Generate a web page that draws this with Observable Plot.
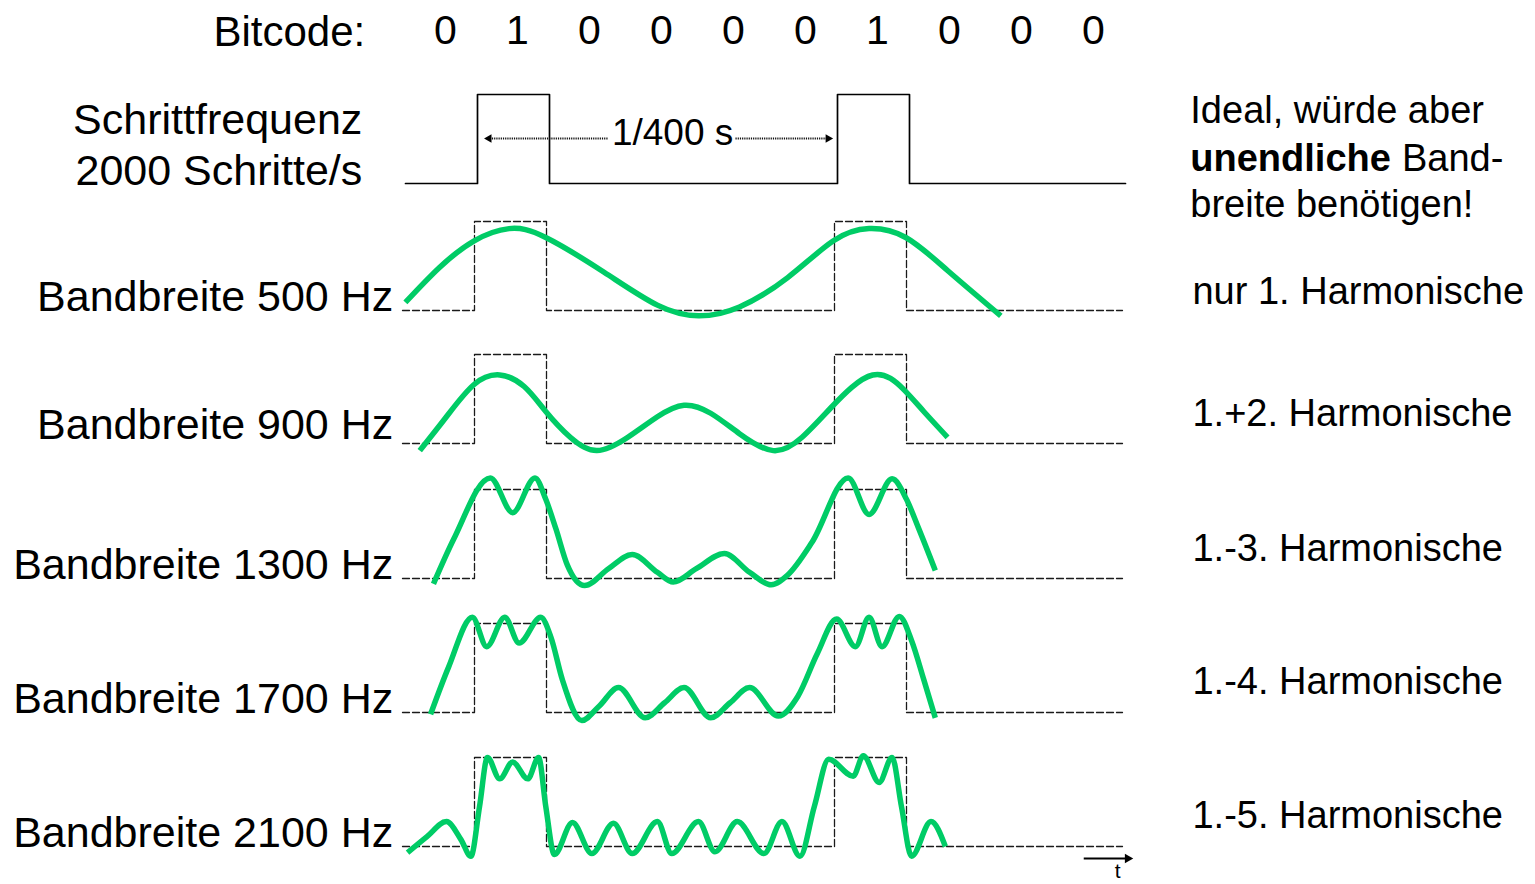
<!DOCTYPE html>
<html>
<head>
<meta charset="utf-8">
<script src="https://cdn.jsdelivr.net/npm/d3@7"></script>
<script src="https://cdn.jsdelivr.net/npm/@observablehq/plot@0.6"></script>
<style>
  html, body { margin: 0; padding: 0; background: #ffffff; }
  #chart svg { display: block; }
</style>
</head>
<body>
<div id="chart"></div>
<script>
// ---------------- DATA ----------------
const bits = [0, 1, 0, 0, 0, 0, 1, 0, 0, 0];
const bandwidths = ["500 Hz", "900 Hz", "1300 Hz", "1700 Hz", "2100 Hz"];
const harmonicLabels = ["nur 1. Harmonische", "1.+2. Harmonische", "1.-3. Harmonische", "1.-4. Harmonische", "1.-5. Harmonische"];
const headerLabel = "Bitcode:";
const stepLabels = ["Schrittfrequenz", "2000 Schritte/s"];
const periodLabel = "1/400 s";
const idealLines = ["Ideal, würde aber", "unendliche", "Band-", "breite benötigen!"];
const timeLabel = "t";

// Green approximations: [position in bits, level (0 = low, 1 = high)]
const wave500 = [[0.04,0.09],[0.51,0.48],[0.99,0.78],[1.48,0.92],[1.99,0.82],[2.80,0.43],[3.54,0.06],[4.11,-0.06],[4.68,0.04],[5.35,0.37],[5.98,0.78],[6.48,0.92],[6.99,0.82],[7.57,0.45],[8.31,-0.06]];
const wave900 = [[0.24,-0.08],[0.61,0.30],[0.99,0.66],[1.35,0.77],[1.69,0.64],[1.99,0.36],[2.33,0.07],[2.70,-0.08],[3.13,0.07],[3.54,0.30],[3.91,0.43],[4.28,0.34],[4.68,0.11],[5.15,-0.08],[5.55,0.07],[5.96,0.41],[6.53,0.77],[6.97,0.60],[7.24,0.36],[7.57,0.07]];
const wave1300 = [[0.43,-0.06],[0.71,0.44],[1.22,1.13],[1.53,0.74],[1.84,1.13],[1.99,0.89],[2.13,0.56],[2.29,0.15],[2.53,-0.08],[2.86,0.11],[3.19,0.27],[3.54,0.07],[3.76,-0.04],[4.08,0.11],[4.47,0.28],[4.82,0.07],[5.12,-0.07],[5.35,0.04],[5.69,0.41],[6.19,1.13],[6.48,0.72],[6.80,1.12],[7.00,0.89],[7.17,0.56],[7.40,0.09]];
const wave1700 = [[0.39,-0.02],[0.64,0.51],[0.97,1.07],[1.17,0.74],[1.42,1.07],[1.62,0.78],[1.92,1.07],[2.06,0.85],[2.22,0.37],[2.49,-0.09],[2.73,0.07],[3.00,0.28],[3.37,-0.06],[3.64,0.11],[3.91,0.28],[4.28,-0.06],[4.55,0.11],[4.82,0.28],[5.22,-0.04],[5.49,0.18],[5.76,0.66],[6.03,1.05],[6.29,0.74],[6.48,1.07],[6.66,0.74],[6.90,1.08],[7.07,0.81],[7.24,0.37],[7.40,-0.06]];
const wave2100 = [[0.07,-0.07],[0.34,0.11],[0.61,0.28],[0.81,0.08],[0.95,-0.11],[1.07,0.45],[1.18,1.00],[1.35,0.76],[1.53,0.95],[1.74,0.76],[1.89,1.00],[1.99,0.45],[2.11,-0.09],[2.36,0.27],[2.63,-0.08],[2.93,0.26],[3.19,-0.08],[3.54,0.28],[3.74,-0.08],[4.11,0.28],[4.34,-0.06],[4.65,0.28],[5.02,-0.08],[5.27,0.28],[5.52,-0.11],[5.72,0.45],[5.92,0.98],[6.26,0.79],[6.40,1.02],[6.62,0.72],[6.80,1.00],[6.93,0.45],[7.07,-0.11],[7.34,0.28],[7.54,0.00]];

// ---------------- LAYOUT (positions / sizes / styles) ----------------
const W = 1535, H = 884;
const BOX = 89;                                      // px per signal level
const rowBaselinePx = [183, 310, 443, 578, 712, 846]; // row 0 = ideal signal
const base = k => rowBaselinePx[k] / BOX;
const Y = (k, a) => a - base(k);                     // level in row k -> y value
const FONT = "'Liberation Sans', Arial, Helvetica, sans-serif";
const GREEN = "#00cc66";
const leftLabelLevel = [0, 0.05, 0, 0, 0];
const rightLabelLevel = [0.07, 0.2, 0.2, 0.21, 0.21];

// ---------------- DERIVED TABLES ----------------
const stepRow = k => [
  ...bits.map((v, i) => ({row: k, x: i, y: Y(k, v)})),
  {row: k, x: bits.length, y: Y(k, bits[bits.length - 1])}
];
const idealPts = stepRow(0);
const dashedPts = bandwidths.flatMap((_, i) => stepRow(i + 1));
const waves = [wave500, wave900, wave1300, wave1700, wave2100];
const greenPts = waves.flatMap((w, i) => w.map(([b, a]) => ({row: i, x: b, y: Y(i + 1, a)})));
const smoothPts = greenPts.filter(d => d.row < 2);
const sharpPts = greenPts.filter(d => d.row >= 2);

const arrowY = Y(0, 0.506);
const periodSegs = [
  {x1: 2.806, x2: 1.16, y: arrowY},
  {x1: 4.583, x2: 5.87, y: arrowY}
];
const periodHeads = [
  {x: 1.16, y: arrowY, r: -90},
  {x: 5.87, y: arrowY, r: 90}
];
const tY = Y(5, -0.135);

const textStyle = {fontFamily: FONT, fill: "#000", lineAnchor: "bottom"};
const greenStyle = {x: "x", y: "y", z: "row", stroke: GREEN, strokeWidth: 5.5, strokeLinecap: "butt", dx: -3};

const chart = Plot.plot({
  width: W,
  height: H,
  margin: 0,
  style: {background: "#ffffff", fontFamily: FONT},
  x: {domain: [0, 10], range: [405, 1125], axis: null},
  y: {domain: [-H / BOX, 0], range: [H, 0], axis: null},
  marks: [
    // ideal bit signal
    Plot.line(idealPts, {x: "x", y: "y", curve: "step-after", stroke: "#000", strokeWidth: 1.7}),
    // dashed reference signal in each band-limited row
    Plot.line(dashedPts, {x: "x", y: "y", z: "row", curve: "step-after", stroke: "#1a1a1a", strokeWidth: 1.3, strokeDasharray: "7,3", dx: -3}),
    // band-limited approximations
    Plot.line(smoothPts, {...greenStyle, curve: "natural"}),
    Plot.line(sharpPts, {...greenStyle, curve: "monotone-x"}),
    // period arrow 1/400 s
    Plot.link(periodSegs, {x1: "x1", x2: "x2", y1: "y", y2: "y", stroke: "#111", strokeWidth: 2, strokeDasharray: "1.2,1"}),
    Plot.dot(periodHeads, {x: "x", y: "y", rotate: "r", symbol: "triangle", r: 3.2, fill: "#000", stroke: null}),
    Plot.text([periodLabel], {x: 3.71, y: Y(0, 0.427), text: d => d, fontSize: 37, textAnchor: "middle", ...textStyle}),
    // header
    Plot.text([headerLabel], {x: -0.56, y: Y(0, 1.55), text: d => d, fontSize: 42, textAnchor: "end", ...textStyle}),
    Plot.text(bits, {x: (d, i) => i + 0.5, y: Y(0, 1.57), text: d => String(d), fontSize: 41, textAnchor: "middle", dx: 4, ...textStyle}),
    // left labels
    Plot.text(stepLabels, {x: -0.6, y: (d, i) => Y(0, i === 0 ? 0.56 : -0.02), text: d => d, fontSize: 43, textAnchor: "end", ...textStyle}),
    Plot.text(bandwidths, {x: -0.17, y: (d, i) => Y(i + 1, leftLabelLevel[i]), text: d => "Bandbreite " + d, fontSize: 43, textAnchor: "end", ...textStyle}),
    // right labels
    Plot.text([idealLines[0]], {x: 10.9, y: Y(0, 0.685), text: d => d, fontSize: 38, textAnchor: "start", ...textStyle}),
    Plot.text([idealLines[1]], {x: 10.9, y: Y(0, 0.146), text: d => d, fontSize: 38, fontWeight: "bold", textAnchor: "start", ...textStyle}),
    Plot.text([idealLines[2]], {x: 13.84, y: Y(0, 0.146), text: d => d, fontSize: 38, textAnchor: "start", ...textStyle}),
    Plot.text([idealLines[3]], {x: 10.9, y: Y(0, -0.38), text: d => d, fontSize: 38, textAnchor: "start", ...textStyle}),
    Plot.text(harmonicLabels, {x: 10.93, y: (d, i) => Y(i + 1, rightLabelLevel[i]), text: d => d, fontSize: 38, textAnchor: "start", ...textStyle}),
    // time axis arrow
    Plot.link([{x1: 9.42, x2: 10.0, y: tY}], {x1: "x1", x2: "x2", y1: "y", y2: "y", stroke: "#000", strokeWidth: 2}),
    Plot.dot([{x: 10.03, y: tY}], {x: "x", y: "y", rotate: 90, symbol: "triangle", r: 3.6, fill: "#000", stroke: null}),
    Plot.text([timeLabel], {x: 9.89, y: Y(5, -0.355), text: d => d, fontSize: 21, textAnchor: "middle", ...textStyle})
  ]
});

document.getElementById("chart").appendChild(chart);
</script>
</body>
</html>
